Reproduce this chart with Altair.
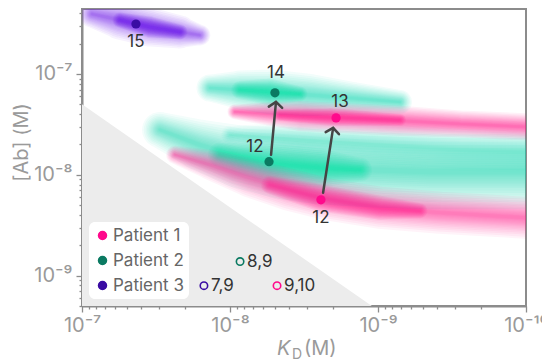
import math
import altair as alt
import pandas as pd

# ---------------- data ----------------
patients = ["Patient 1", "Patient 2", "Patient 3"]
patient_colors = ["#ff0a8c", "#0b7a62", "#3a0ca3"]

# filled points (current visits)
pt_patient = ["Patient 3", "Patient 2", "Patient 2", "Patient 1", "Patient 1"]
pt_kd = [4.32e-8, 4.97e-9, 5.45e-9, 1.92e-9, 2.43e-9]
pt_ab = [3.13e-7, 6.5e-8, 1.35e-8, 3.67e-8, 5.65e-9]
pt_label = ["15", "14", "12", "13", "12"]
pt_label_pos = ["below", "above", "upper-left", "above-right", "below"]

# open circles (earlier visits)
op_patient = ["Patient 2", "Patient 3", "Patient 1"]
op_kd = [8.55e-9, 1.5e-8, 4.81e-9]
op_ab = [1.38e-9, 7.96e-10, 7.96e-10]
op_label = ["8,9", "7,9", "9,10"]

# arrows (tail -> tip)
arrow_kd_from = [5.28e-9, 2.35e-9]
arrow_ab_from = [1.58e-8, 6.64e-9]
arrow_kd_to = [4.89e-9, 2.01e-9]
arrow_ab_to = [5.28e-8, 2.92e-8]

# excluded (gray) region
tri_kd = [1e-7, 1.1e-9]
tri_ab = [5e-8, 5e-10]
tri_floor = [5e-10, 5e-10]

# density bands (centre lines)
bands = {
    "teal_wash": ([1e-8, 3.37e-9, 9.7e-10, 2.79e-10, 1.0e-10],
                  [2.49e-8, 2.22e-8, 1.98e-8, 1.77e-8, 1.69e-8]),
    "teal_up": ([1.365e-8, 8.55e-9, 5.37e-9, 2.88e-9, 1.55e-9, 7.1e-10],
                [7.26e-8, 6.95e-8, 6.64e-8, 6.19e-8, 5.78e-8, 5.28e-8]),
    "teal_up_core": ([8.55e-9, 5.37e-9, 3.37e-9],
                     [6.95e-8, 6.64e-8, 6.34e-8]),
    "teal_low": ([2.97e-8, 1.6e-8, 8.55e-9, 4.59e-9, 2.47e-9, 1.13e-9, 4.46e-10, 1.0e-10],
                 [2.79e-8, 1.98e-8, 1.51e-8, 1.32e-8, 1.2e-8, 1.12e-8, 1.07e-8, 1.07e-8]),
    "teal_low_core": ([1.17e-8, 5.37e-9, 2.47e-9, 1.32e-9],
                      [1.58e-8, 1.29e-8, 1.17e-8, 1.12e-8]),
    "pink_up": ([9.25e-9, 5.37e-9, 3.37e-9, 1.81e-9, 7.1e-10, 2.79e-10, 1.0e-10],
                [4.21e-8, 4.02e-8, 3.84e-8, 3.67e-8, 3.43e-8, 3.2e-8, 2.99e-8]),
    "pink_up_core": ([4.59e-9, 2.11e-9, 7.1e-10],
                     [3.93e-8, 3.75e-8, 3.5e-8]),
    "pink_low": ([2.35e-8, 1.365e-8, 7.33e-9, 3.94e-9, 2.11e-9, 9.7e-10, 3.81e-10, 1.0e-10],
                 [1.58e-8, 1.26e-8, 9.33e-9, 7.1e-9, 5.65e-9, 4.71e-9, 4.21e-9, 3.75e-9]),
    "pink_low_core": ([5.37e-9, 2.47e-9, 9.7e-10, 5.2e-10],
                      [7.96e-9, 5.92e-9, 4.71e-9, 4.41e-9]),
    "purple": ([8.55e-8, 5.53e-8, 3.48e-8, 2.18e-8, 1.6e-8],
               [3.93e-7, 3.43e-7, 2.92e-7, 2.61e-7, 2.43e-7]),
    "purple_core": ([5.53e-8, 3.48e-8, 2.18e-8],
                    [3.43e-7, 2.92e-7, 2.61e-7]),
}

x_major = [1e-7, 1e-8, 1e-9, 1e-10]
x_major_labels = ["10⁻⁷", "10⁻⁸", "10⁻⁹", "10⁻¹⁰"]
y_major = [1e-7, 1e-8, 1e-9]
y_major_labels = ["10⁻⁷", "10⁻⁸", "10⁻⁹"]

# ---------------- styles ----------------
TEAL_BLOB = "#14dcb0"
PINK_BLOB = "#ff3399"
PURPLE_BLOB = "#7426f0"
band_style = {  # colour, thickness profile along the band (px), per-layer opacity
    "teal_wash": (TEAL_BLOB, [6, 12, 14, 14, 14], 0.03),
    "teal_up": (TEAL_BLOB, [9, 13, 15, 14, 11, 8], 0.055),
    "teal_up_core": (TEAL_BLOB, [6, 9, 5], 0.07),
    "teal_low": (TEAL_BLOB, [12, 17, 21, 24, 25, 25, 25, 25], 0.05),
    "teal_low_core": (TEAL_BLOB, [8, 13, 13, 8], 0.07),
    "pink_up": (PINK_BLOB, [5, 8, 10, 10, 10, 9, 9], 0.065),
    "pink_up_core": (PINK_BLOB, [4, 6, 4], 0.09),
    "pink_low": (PINK_BLOB, [6, 10, 13, 14, 14, 14, 14, 14], 0.06),
    "pink_low_core": (PINK_BLOB, [6, 9, 8, 5], 0.09),
    "purple": (PURPLE_BLOB, [9, 13, 13, 11, 7], 0.06),
    "purple_core": (PURPLE_BLOB, [5, 7, 5], 0.1),
}
factors = [3.0, 2.7, 2.4, 2.15, 1.9, 1.7, 1.5, 1.3, 1.15, 1.0, 0.85, 0.7, 0.55, 0.4, 0.3, 0.2]

W, H = 444, 297
X_DOM = [1e-10, 1e-7]
Y_DOM = [5e-10, 4.41e-7]
GRAY = "#9a9a9a"
FRAME = "#8c8c8c"
FONT = "Inter"

x_minor = [m * 10.0 ** e for e in (-10, -9, -8) for m in range(2, 10)]
y_minor = [m * 10.0 ** e for e in (-10,) for m in range(5, 10)] + \
          [m * 10.0 ** e for e in (-9, -8) for m in range(2, 10)] + \
          [m * 1e-7 for m in range(2, 5)]

major_test = "abs(log(datum.value)/LN10 - round(log(datum.value)/LN10)) < 0.001"


def label_expr(vals, labs):
    s = ""
    for v, lab in zip(vals, labs):
        s += f"abs(log(datum.value)/LN10 - ({round(math.log10(v))})) < 0.001 ? '{lab}' : "
    return s + "''"


tick_size = {"condition": {"test": major_test, "value": 6}, "value": 3}

xaxis = alt.Axis(values=x_major + x_minor, labelExpr=label_expr(x_major, x_major_labels),
                 tickSize=tick_size, labelFontSize=20, labelColor=GRAY, labelPadding=3,
                 labelFlush=False, labelOverlap=False, grid=False, title=None)
yaxis = alt.Axis(values=y_major + y_minor, labelExpr=label_expr(y_major, y_major_labels),
                 tickSize=tick_size, labelFontSize=20, labelColor=GRAY, labelPadding=4,
                 labelOverlap=False, grid=False, title="[Ab] (M)", titleFontSize=20,
                 titleColor=GRAY, titleFontWeight="normal", titleAngle=270,
                 titleBaseline="top", titleAlign="center", titleX=-71, titleY=133)

xscale = alt.Scale(type="log", domain=X_DOM, reverse=True, nice=False)
yscale = alt.Scale(type="log", domain=Y_DOM, nice=False)


def X(f):
    return alt.X(f, type="quantitative", scale=xscale, axis=xaxis)


def Y(f):
    return alt.Y(f, type="quantitative", scale=yscale, axis=yaxis)


# ---------------- tables ----------------
tri_df = pd.DataFrame({"kd": tri_kd, "ab": tri_ab, "floor": tri_floor})
pts_df = pd.DataFrame({"patient": pt_patient, "kd": pt_kd, "ab": pt_ab,
                       "label": pt_label, "pos": pt_label_pos})
op_df = pd.DataFrame({"patient": op_patient, "kd": op_kd, "ab": op_ab, "label": op_label})

xppd = W / math.log10(X_DOM[1] / X_DOM[0])
yppd = H / math.log10(Y_DOM[1] / Y_DOM[0])
angles = []
for a, b, c, d in zip(arrow_kd_from, arrow_ab_from, arrow_kd_to, arrow_ab_to):
    dx = (math.log10(a) - math.log10(c)) * xppd
    dy = (math.log10(d) - math.log10(b)) * yppd
    angles.append(math.degrees(math.atan2(dx, dy)))
arr_df = pd.DataFrame({"kd": arrow_kd_from, "ab": arrow_ab_from,
                       "kd2": arrow_kd_to, "ab2": arrow_ab_to, "ang": angles})

rows = []
for name, (kds, abs_) in bands.items():
    col, widths, op = band_style[name]
    for k, f in enumerate(factors):
        for i, (a, b, w) in enumerate(zip(kds, abs_, widths)):
            rows.append(dict(key=f"{name}-{k}", color=col, i=i, kd=a, ab=b, sw=w * f, op=op))
band_df = pd.DataFrame(rows)

# ---------------- layers ----------------
tri = alt.Chart(tri_df).mark_area(color="#ececec", clip=True).encode(
    x=X("kd"), y=Y("ab"), y2=alt.Y2("floor"))


def band_layer(col):
    d = band_df[band_df["color"] == col]
    return alt.Chart(d).mark_trail(color=col, clip=True).encode(
        x=X("kd"), y=Y("ab"), detail="key:N", order="i:Q",
        size=alt.Size("sw:Q", scale=None, legend=None),
        opacity=alt.Opacity("op:Q", scale=None, legend=None))


bands_layers = [band_layer(TEAL_BLOB), band_layer(PINK_BLOB), band_layer(PURPLE_BLOB)]

arrows = alt.Chart(arr_df).mark_rule(color="#454545", strokeWidth=2.5, strokeCap="round").encode(
    x=X("kd"), y=Y("ab"), x2=alt.X2("kd2"), y2=alt.Y2("ab2"))
heads = alt.Chart(arr_df).mark_point(shape="M -1 0.8 L 0 0 L 1 0.8", filled=False, size=180,
                                     strokeWidth=2.5, color="#454545", opacity=1,
                                     strokeCap="round", strokeJoin="miter").encode(
    x=X("kd2"), y=Y("ab2"), angle=alt.Angle("ang:Q", scale=None))

points = alt.Chart(pts_df).mark_circle(size=85, opacity=1).encode(
    x=X("kd"), y=Y("ab"),
    color=alt.Color("patient:N", scale=alt.Scale(domain=patients, range=patient_colors),
                    legend=alt.Legend(title=None, orient="bottom-left", offset=7,
                                      fillColor="white", cornerRadius=6, padding=5,
                                      labelFontSize=17, labelColor="#666666",
                                      labelFont=FONT, symbolSize=64, symbolType="circle",
                                      rowPadding=7, labelOffset=2, symbolOpacity=1)))

offsets = {"below": (0, 18), "above": (1, -20), "upper-left": (-14, -15), "above-right": (4, -16)}
label_layers = []
for pos, (dx, dy) in offsets.items():
    label_layers.append(
        alt.Chart(pts_df).transform_filter(alt.datum.pos == pos).mark_text(
            dx=dx, dy=dy, fontSize=17, color="#333333", font=FONT, baseline="middle").encode(
            x=X("kd"), y=Y("ab"), text="label:N"))

opens = alt.Chart(op_df).mark_point(filled=False, size=55, strokeWidth=1.6, opacity=1).encode(
    x=X("kd"), y=Y("ab"),
    stroke=alt.Stroke("patient:N", scale=alt.Scale(domain=patients, range=patient_colors),
                      legend=None))
open_labels = alt.Chart(op_df).mark_text(align="left", dx=7, baseline="middle", fontSize=17,
                                         color="#333333", font=FONT).encode(
    x=X("kd"), y=Y("ab"), text="label:N")

one = pd.DataFrame({"a": [1]})
t_k = alt.Chart(one).mark_text(text="K", fontStyle="italic", fontSize=20, color=GRAY, font=FONT,
                               align="left", baseline="alphabetic").encode(
    x=alt.value(195), y=alt.value(H + 49))
t_d = alt.Chart(one).mark_text(text="D", fontSize=14, color=GRAY, font=FONT,
                               align="left", baseline="alphabetic").encode(
    x=alt.value(210), y=alt.value(H + 53))
t_m = alt.Chart(one).mark_text(text="(M)", fontSize=20, color=GRAY, font=FONT,
                               align="left", baseline="alphabetic").encode(
    x=alt.value(222), y=alt.value(H + 49))

chart = alt.layer(tri, *bands_layers, arrows, heads, points, *label_layers, opens, open_labels,
                  t_k, t_d, t_m).properties(
    width=W, height=H,
    autosize=alt.AutoSizeParams(type="none"),
    padding={"left": 74, "top": 1, "right": 16, "bottom": 55},
).configure(font=FONT).configure_view(
    stroke=FRAME, strokeWidth=2
).configure_axis(
    domainColor=FRAME, domainWidth=2, tickColor=FRAME, tickWidth=1.3,
    labelFont=FONT, titleFont=FONT
)

chart.save("out.html", embed_options={"renderer": "svg", "actions": False})
